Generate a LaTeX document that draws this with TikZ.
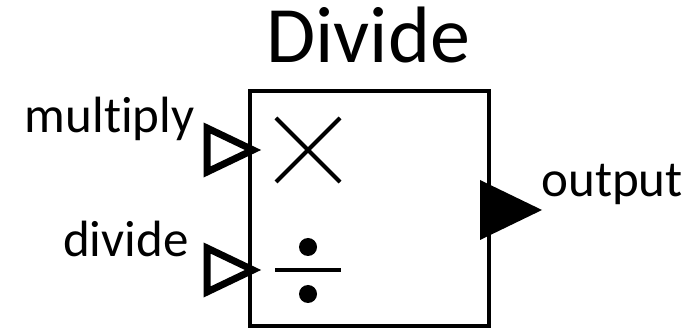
\documentclass[tikz,border=0pt]{standalone}
\usepackage{fontspec}
\setmainfont{Carlito}[Ligatures=NoCommon]
\usetikzlibrary{calc, positioning}

\begin{document}
\begin{tikzpicture}[x=0.5pt, y=-0.5pt,
  blockbox/.style = {draw=black, line width=2pt, minimum width=119.5pt, minimum height=117.5pt, inner sep=0pt},
  inport/.style   = {draw=black, line width=3.5pt, line join=miter},
  outport/.style  = {fill=black},
  opsym/.style    = {draw=black, line width=2pt},
  portlbl/.style  = {font=\fontsize{25.5}{30}\selectfont, inner sep=0pt},
  titlelbl/.style = {font=\fontsize{40}{48}\selectfont, inner sep=0pt, anchor=base},
]
\useasboundingbox (0,0) rectangle (700,330);
%%--- Block and title ---
\node[blockbox] (blk) at (369.5, 208.5) {};
\node[titlelbl] (title) at (368, 63) {Divide};
%%--- Ports: multiply at -60, divide at +60, output at centre ---
\coordinate (pmul) at ($(blk.west)+(0,-58.5)$);
\coordinate (pdiv) at ($(blk.west)+(0,61.5)$);
\coordinate (pout) at ($(blk.east)+(0,1.5)$);
\draw[inport] ($(pmul)+(-41,-22)$) -- ($(pmul)+(5,0)$) -- ($(pmul)+(-41,22)$) -- cycle;
\draw[inport] ($(pdiv)+(-41,-22)$) -- ($(pdiv)+(5,0)$) -- ($(pdiv)+(-41,22)$) -- cycle;
\fill[outport] ($(pout)+(-11,-30)$) -- ($(pout)+(51,0)$) -- ($(pout)+(-11,30)$) -- cycle;
\node[portlbl, anchor=base east] (lmul) at (195,133) {multiply};
\node[portlbl, anchor=base east] (ldiv) at (189,257) {divide};
\node[portlbl, anchor=base west] (lout) at (541,197) {output};
%%--- Operator symbols ---
\coordinate (xmul) at ($(pmul)+(60,0)$);
\coordinate (xdiv) at ($(pdiv)+(60,0)$);
\draw[opsym] ($(xmul)+(-32,-32)$) -- ($(xmul)+(32,32)$);
\draw[opsym] ($(xmul)+(-32,32)$) -- ($(xmul)+(32,-32)$);
\draw[opsym] ($(xdiv)+(-33,0)$) -- ($(xdiv)+(33,0)$);
\fill ($(xdiv)+(0,-23)$) circle (9);
\fill ($(xdiv)+(0,24)$) circle (9);
\end{tikzpicture}
\end{document}
